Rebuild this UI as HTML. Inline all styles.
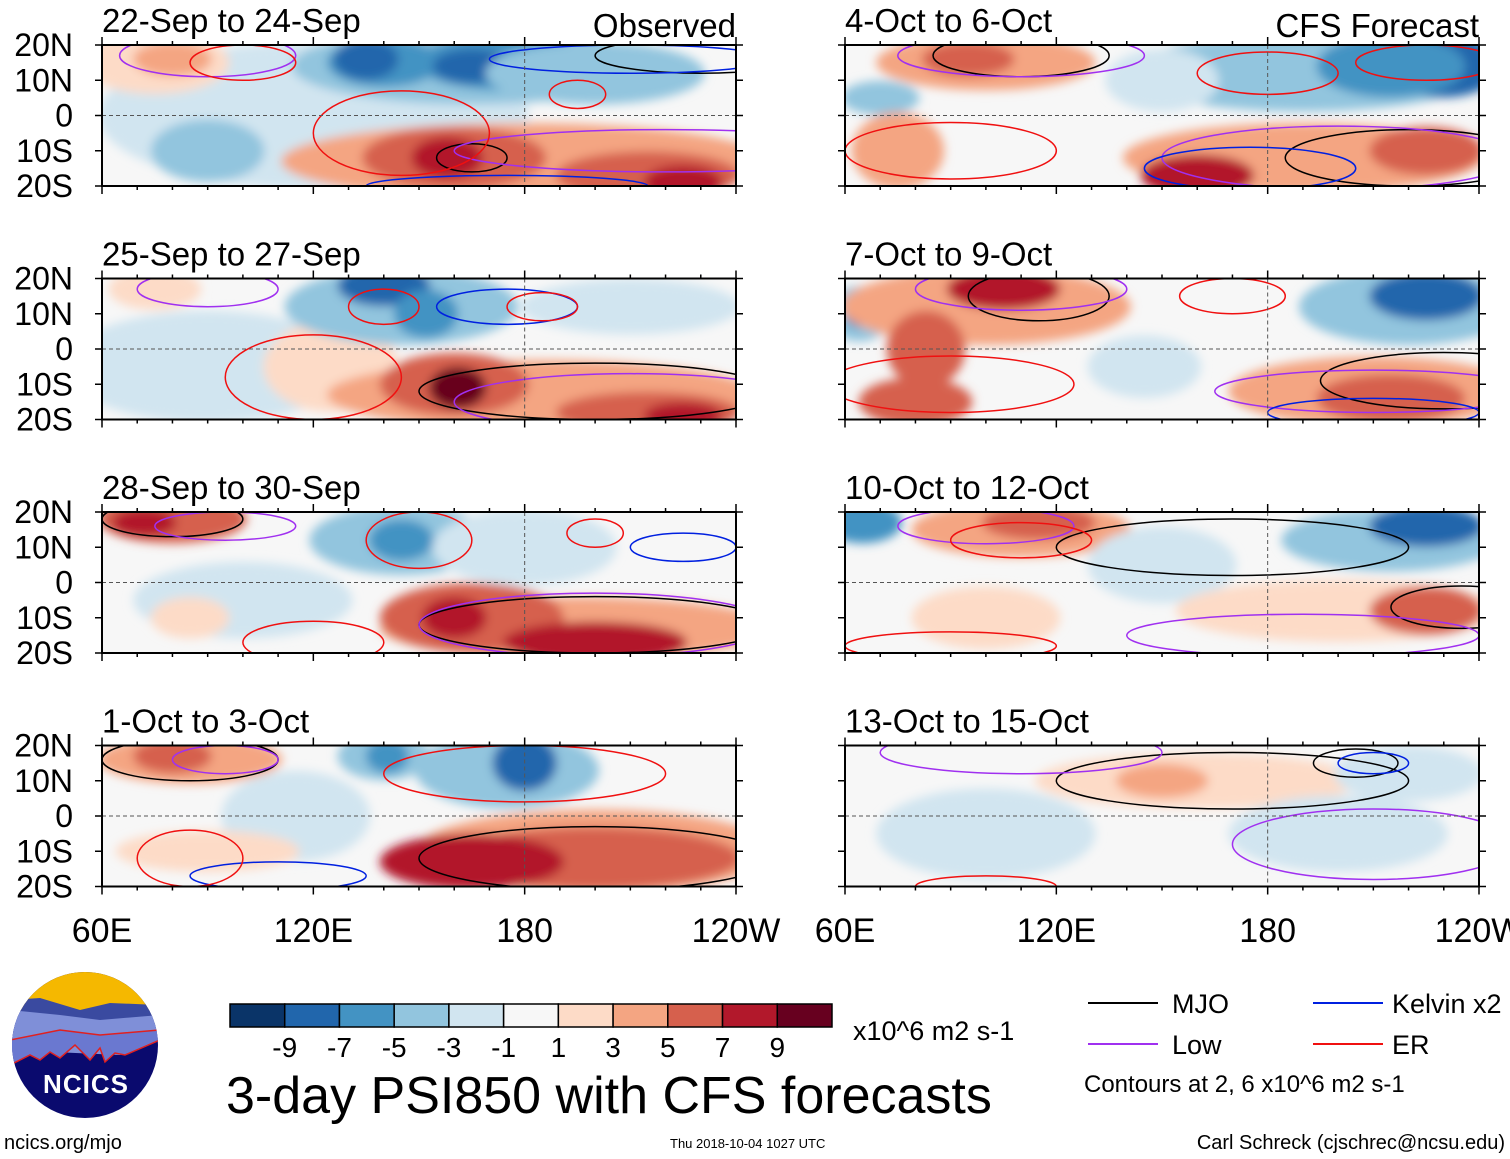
<!DOCTYPE html>
<html><head><meta charset="utf-8"><style>
body{margin:0;background:#fff;width:1510px;height:1159px;overflow:hidden}
svg{display:block}
text{font-family:"Liberation Sans",sans-serif;fill:#000}
</style></head><body>
<svg id="s" width="1510" height="1159" viewBox="0 0 1510 1159">
<defs><filter id="bl" x="-30%" y="-30%" width="160%" height="160%"><feGaussianBlur stdDeviation="5"/></filter></defs>
<g id="panels"></g>
<g>
<clipPath id="lc"><circle cx="85" cy="1045" r="73"/></clipPath>
<g clip-path="url(#lc)">
<rect x="10" y="970" width="150" height="150" fill="#0a0a6e"/>
<rect x="10" y="970" width="150" height="40" fill="#f5b800"/>
<path d="M10 1000 L40 998 L80 1010 L110 1003 L160 1005 L160 1030 L10 1040Z" fill="#3a4aa0"/>
<path d="M10 1010 L60 1015 L100 1020 L160 1015 L160 1035 L120 1055 L10 1050Z" fill="#7f8fd8"/>
<path d="M10 1040 L60 1030 L100 1035 L160 1030 L160 1040 L125 1055 L115 1053 L105 1062 L100 1048 L90 1060 L75 1045 L60 1058 L50 1052 L40 1060 L30 1055 L10 1065Z" fill="#6a78d0" stroke="#e02020" stroke-width="1.5"/>
</g>
<text x="86" y="1093" font-size="26" font-weight="bold" text-anchor="middle" style="fill:#fff" letter-spacing="1">NCICS</text>
</g>
<text x="4" y="1149" font-size="20">ncics.org/mjo</text>
<g id="cbar"></g>
<text x="853" y="1040" font-size="27">x10^6 m2 s-1</text>
<text x="226" y="1113" font-size="52">3-day PSI850 with CFS forecasts</text>
<g>
<line x1="1088" y1="1003" x2="1158" y2="1003" stroke="#000" stroke-width="2"/><text x="1172" y="1013" font-size="27">MJO</text>
<line x1="1313" y1="1003" x2="1383" y2="1003" stroke="#0020e0" stroke-width="2"/><text x="1392" y="1013" font-size="27">Kelvin x2</text>
<line x1="1088" y1="1044" x2="1158" y2="1044" stroke="#a030f0" stroke-width="2"/><text x="1172" y="1054" font-size="27">Low</text>
<line x1="1313" y1="1044" x2="1383" y2="1044" stroke="#f01010" stroke-width="2"/><text x="1392" y="1054" font-size="27">ER</text>
<text x="1084" y="1092" font-size="24">Contours at 2, 6 x10^6 m2 s-1</text>
</g>
<text x="670" y="1148" font-size="13">Thu 2018-10-04 1027 UTC</text>
<text x="1505" y="1149" font-size="20" text-anchor="end">Carl Schreck (cjschrec@ncsu.edu)</text>
</svg>
<script>
const NS='http://www.w3.org/2000/svg';
const colors=['#0a3468','#2166ac','#4393c3','#92c5de','#d1e5f0','#f7f7f7','#fddbc7','#f4a582','#d6604d','#b2182b','#67001f'];
const cbarLabels=['-9','-7','-5','-3','-1','1','3','5','7','9'];
const titles=['22-Sep to 24-Sep','25-Sep to 27-Sep','28-Sep to 30-Sep','1-Oct to 3-Oct','4-Oct to 6-Oct','7-Oct to 9-Oct','10-Oct to 12-Oct','13-Oct to 15-Oct'];
const latLabels=['20N','10N','0','10S','20S'];
const latTicks=[20,10,0,-10,-20];
const lonLabels=['60E','120E','180','120W'];
const lonTicks=[60,120,180,240];
// blobs: [lon, lat, rlon, rlat, colorIndex]
const blobs=[
[[120,0,60,20,4],[75,15,20,8,6],[80,16,10,4,7],[165,14,50,10,3],[140,15,15,6,2],[135,16,8,5,1],[175,15,25,7,2],[165,14,10,4,1],[200,12,30,8,3],[180,-13,68,10,7],[160,-12,25,8,8],[158,-12,9,5,9],[215,-17,25,6,8],[225,-19,10,4,9],[90,-10,15,8,3]],
[[90,-5,40,15,4],[75,17,12,5,6],[125,-5,18,12,6],[145,12,32,10,3],[140,18,12,5,1],[152,10,8,6,2],[185,-13,60,9,7],[160,-10,20,8,8],[161,-11,7,5,10],[215,-18,25,5,8],[225,-19,10,3,9],[210,12,30,7,4]],
[[80,18,20,6,8],[72,17,8,3,9],[145,12,25,9,3],[145,12,8,5,2],[180,10,25,10,4],[100,-5,30,10,4],[195,-13,55,8,7],[165,-10,25,9,8],[160,-10,8,5,9],[200,-17,25,5,9],[85,-10,10,5,6]],
[[85,16,25,6,7],[80,17,10,4,8],[140,17,12,6,3],[141,17,5,4,2],[175,13,25,10,3],[180,15,8,7,1],[115,0,20,12,4],[200,-10,50,11,7],[200,-12,40,8,8],[165,-13,25,7,9],[90,-10,25,5,6]],
[[100,15,30,7,7],[95,16,12,4,8],[70,5,10,4,3],[190,12,50,10,3],[230,14,15,8,1],[215,14,20,8,2],[190,-12,50,9,7],[225,-10,15,6,8],[160,-17,15,5,9],[75,-10,12,10,7],[150,10,15,8,4]],
[[64,10,8,7,3],[64,10,3,3,1],[100,12,40,10,7],[105,17,15,5,9],[83,0,10,10,8],[220,12,30,10,3],[225,15,15,6,1],[210,-12,40,9,7],[215,-14,20,6,8],[80,-15,15,6,8],[145,-5,15,8,4]],
[[65,17,10,5,2],[110,15,30,7,7],[115,17,15,4,8],[150,5,20,10,4],[215,12,30,8,3],[225,16,15,5,1],[200,-8,45,8,6],[225,-8,15,6,8],[100,-10,20,8,6]],
[[160,10,45,7,6],[150,10,12,4,7],[100,-5,30,12,4],[200,-5,30,10,4],[220,12,20,7,4]]
];
// contours: [lon, lat, rlon, rlat, type] type 0 MJO,1 Low,2 Kelvin,3 ER
const contours=[
[[165,-12,10,4,0],[230,17,30,5,0],[90,17,25,6,1],[220,-10,60,6,1],[175,-20,40,3,2],[210,16,40,4,2],[145,-5,25,12,3],[195,6,8,4,3],[100,15,15,5,3]],
[[200,-12,50,8,0],[90,17,20,5,1],[210,-15,50,8,1],[175,12,20,5,2],[120,-8,25,12,3],[185,12,10,4,3],[140,12,10,5,3]],
[[80,18,20,5,0],[200,-12,50,8,0],[95,16,20,4,1],[200,-12,50,9,1],[225,10,15,4,2],[150,12,15,8,3],[120,-17,20,6,3],[200,14,8,4,3]],
[[85,16,25,6,0],[200,-12,50,9,0],[95,16,15,4,1],[110,-17,25,4,2],[85,-12,15,8,3],[180,12,40,8,3]],
[[110,17,25,6,0],[220,-12,35,8,0],[110,17,35,6,1],[200,-12,50,9,1],[175,-15,30,6,2],[90,-10,30,8,3],[225,15,20,5,3],[180,12,20,6,3]],
[[115,15,20,7,0],[230,-9,35,8,0],[110,17,30,6,1],[210,-12,45,6,1],[210,-18,30,4,2],[90,-10,35,8,3],[170,15,15,5,3]],
[[170,10,50,8,0],[235,-7,20,6,0],[100,16,25,5,1],[190,-15,50,6,1],[90,-18,30,4,3],[110,12,20,5,3]],
[[170,10,50,8,0],[205,15,12,4,0],[110,18,40,6,1],[210,-8,40,10,1],[210,15,10,3,2],[100,-20,20,3,3]]
];
const ccol=['#000','#a030f0','#0020e0','#f01010'];
const W=634,H=141;
function el(tag,attrs,parent){const e=document.createElementNS(NS,tag);for(const k in attrs)e.setAttribute(k,attrs[k]);parent.appendChild(e);return e;}
const root=document.getElementById('panels');
for(let p=0;p<8;p++){
  const col=p<4?0:1,row=p%4;
  const x0=col?845:102,y0=45+row*233.5;
  const px=lon=>x0+(lon-60)*W/180, py=lat=>y0+(20-lat)*H/40;
  const g=el('g',{},root);
  
  
  const cp=el('clipPath',{id:'c'+p},g);el('rect',{x:x0,y:y0,width:W,height:H},cp);
  el('rect',{x:x0,y:y0,width:W,height:H,fill:colors[5]},g);
  const fg=el('g',{'clip-path':'url(#c'+p+')'},g);
  const bg=el('g',{filter:'url(#bl)'},fg);
  blobs[p].forEach(b=>{const e=el('ellipse',{cx:px(b[0]),cy:py(b[1]),rx:b[2]*W/180+4,ry:b[3]*H/40+3,fill:colors[b[4]]},bg);
    
    });
  contours[p].forEach(c=>{const e=el('ellipse',{cx:px(c[0]),cy:py(c[1]),rx:c[2]*W/180,ry:c[3]*H/40,fill:'none',stroke:ccol[c[4]],'stroke-width':1.5},fg);
    
    });
  el('line',{x1:x0,y1:py(0),x2:x0+W,y2:py(0),stroke:'#555','stroke-dasharray':'4,3','stroke-width':1},g);
  el('line',{x1:px(180),y1:y0,x2:px(180),y2:y0+H,stroke:'#555','stroke-dasharray':'4,3','stroke-width':1},g);
  el('rect',{x:x0,y:y0,width:W,height:H,fill:'none',stroke:'#000','stroke-width':2},g);
  for(let l=60;l<=240;l+=10){const L=l%60==0?8:4;
    el('line',{x1:px(l),y1:y0,x2:px(l),y2:y0-L,stroke:'#000','stroke-width':1.5},g);
    el('line',{x1:px(l),y1:y0+H,x2:px(l),y2:y0+H+L,stroke:'#000','stroke-width':1.5},g);}
  latTicks.forEach(t=>{el('line',{x1:x0,y1:py(t),x2:x0-7,y2:py(t),stroke:'#000','stroke-width':1.5},g);
    el('line',{x1:x0+W,y1:py(t),x2:x0+W+7,y2:py(t),stroke:'#000','stroke-width':1.5},g);});
  const t=el('text',{x:x0,y:y0-13,'font-size':33},g);t.textContent=titles[p];
  
  
  if(row==0){const o=el('text',{x:x0+W,y:y0-8,'font-size':33,'text-anchor':'end'},g);o.textContent=col?'CFS Forecast':'Observed';}
  if(col==0){latTicks.forEach((tk,i)=>{const tt=el('text',{x:73,y:py(tk)+11,'font-size':32,'text-anchor':'end'},g);tt.textContent=latLabels[i];});}
  if(row==3){lonTicks.forEach((tk,i)=>{const tt=el('text',{x:px(tk),y:942,'font-size':34,'text-anchor':'middle'},g);tt.textContent=lonLabels[i];
    
    });}
}
const cb=document.getElementById('cbar');
const bw=(832-230)/11;
colors.forEach((c,i)=>{el('rect',{x:230+i*bw,y:1004,width:bw,height:23,fill:c,stroke:'#000','stroke-width':1.5},cb);});
cbarLabels.forEach((l,i)=>{const t=el('text',{x:230+(i+1)*bw,y:1057,'font-size':28,'text-anchor':'middle'},cb);t.textContent=l;
  
  });
</script>
</body></html>
